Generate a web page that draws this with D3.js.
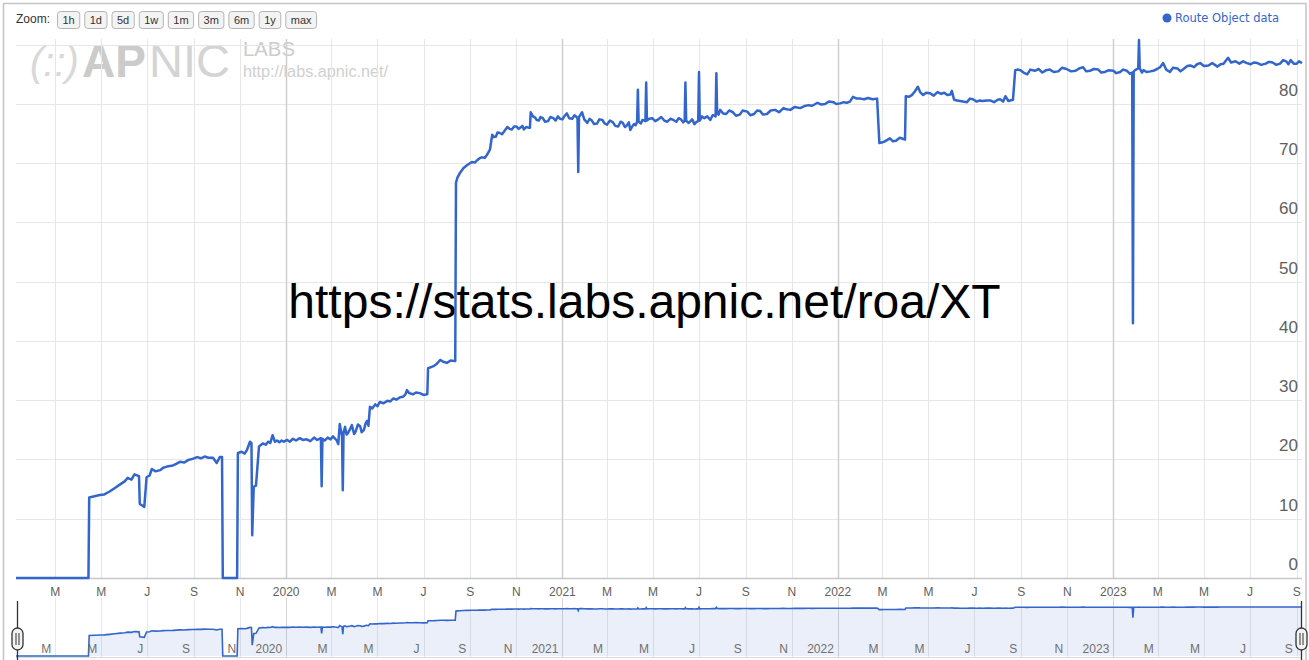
<!DOCTYPE html>
<html><head><meta charset="utf-8">
<script src="https://cdn.jsdelivr.net/npm/d3@7"></script>
<style>
html,body{margin:0;padding:0;background:#fff;}
svg{display:block;font-family:"Liberation Sans",Arial,sans-serif;}
</style></head><body>
<svg id="chart" width="1309" height="660"></svg>
<script>
// ---------------- DATA ----------------
const seriesName = "Route Object data";
const overlayText = "https://stats.labs.apnic.net/roa/XT";
const zoomButtons = ["1h","1d","5d","1w","1m","3m","6m","1y","max"];
const monthInitials = ["J","F","M","A","M","J","J","A","S","O","N","D"];
const yTickValues = [0,10,20,30,40,50,60,70,80];
const yGridValues = [0,10,20,30,40,50,60,70,80,90];
const xDomain = ["2019-01-08","2023-09-08"];

// [date, route-object ROA coverage %]
const data2019 = [
["2019-01-08",0],["2019-04-14",0],["2019-04-15",13.6],["2019-04-22",13.8],["2019-04-29",14.0],["2019-05-05",14.1],
["2019-05-12",14.6],["2019-05-19",15.2],["2019-05-26",15.8],["2019-06-01",16.3],["2019-06-05",16.9],["2019-06-10",16.6],
["2019-06-14",17.5],["2019-06-20",17.2],["2019-06-21",12.5],["2019-06-27",12.0],["2019-06-30",17.0],["2019-07-04",17.3],
["2019-07-07",18.4],["2019-07-12",18.0],["2019-07-18",18.2],["2019-07-22",18.6],["2019-07-27",18.8],["2019-08-04",19.0],
["2019-08-09",19.3],["2019-08-13",19.6],["2019-08-19",19.5],["2019-08-24",19.9],["2019-08-30",20.1],["2019-09-05",20.4],
["2019-09-10",20.2],["2019-09-15",20.5],["2019-09-20",20.3],["2019-09-26",20.3],["2019-10-01",19.4],["2019-10-05",20.4],
["2019-10-08",20.4],["2019-10-09",0],["2019-10-28",0],["2019-10-29",21.1],["2019-11-03",21.3],["2019-11-07",21.0],
["2019-11-10",21.6],["2019-11-14",23.0],["2019-11-16",22.8],["2019-11-17",7.2],["2019-11-19",15.4],["2019-11-22",15.6],
["2019-11-26",22.2],["2019-12-01",22.7],["2019-12-05",22.5],["2019-12-08",23.0],["2019-12-11",22.8],["2019-12-14",24.1],
["2019-12-17",23.0],["2019-12-20",23.2],["2019-12-23",22.9],["2019-12-26",23.2],["2019-12-29",23.0]
];
const data2020 = [
["2020-01-02",23.3],["2020-01-06",23.0],["2020-01-10",23.5],["2020-01-14",23.2],["2020-01-19",23.6],["2020-01-23",23.3],
["2020-01-28",23.4],["2020-02-02",23.1],["2020-02-07",23.7],["2020-02-11",23.3],["2020-02-16",23.6],["2020-02-17",15.5],
["2020-02-18",23.5],["2020-02-21",23.2],["2020-02-25",23.7],["2020-02-29",23.4],["2020-03-03",23.9],["2020-03-08",23.2],
["2020-03-10",22.6],["2020-03-12",26.0],["2020-03-14",24.6],["2020-03-15",24.0],["2020-03-16",14.8],["2020-03-17",24.5],
["2020-03-19",25.5],["2020-03-21",24.2],["2020-03-23",24.5],["2020-03-26",25.2],["2020-03-28",25.8],["2020-03-31",24.3],
["2020-04-02",24.7],["2020-04-05",25.9],["2020-04-08",25.6],["2020-04-10",24.6],["2020-04-13",25.0],["2020-04-15",26.0],
["2020-04-17",26.5],["2020-04-19",25.7],["2020-04-21",28.9],["2020-04-24",28.6],["2020-04-28",29.3],["2020-05-01",29.0],
["2020-05-04",29.7],["2020-05-09",29.5],["2020-05-14",29.9],["2020-05-18",29.8],["2020-05-22",30.3],["2020-05-26",30.1],
["2020-05-31",30.5],["2020-06-04",30.6],["2020-06-07",31.0],["2020-06-09",31.7],["2020-06-12",31.2],["2020-06-17",31.0],
["2020-06-21",31.3],["2020-06-26",31.2],["2020-07-01",30.9],["2020-07-06",31.0],["2020-07-07",35.4],["2020-07-11",35.6],
["2020-07-15",35.8],["2020-07-19",36.2],["2020-07-23",36.8],["2020-07-27",36.5],["2020-08-01",36.3],["2020-08-06",36.7],
["2020-08-12",36.6],["2020-08-13",66.7],["2020-08-15",67.6],["2020-08-18",68.3],["2020-08-23",69.2],["2020-08-28",69.7],
["2020-09-03",70.2],["2020-09-07",70.1],["2020-09-10",70.5],["2020-09-13",70.8],["2020-09-16",71.0],["2020-09-20",70.9],
["2020-09-23",71.4],["2020-09-27",72.3],["2020-09-30",74.8],["2020-10-02",74.4],["2020-10-05",74.5],["2020-10-07",75.2],
["2020-10-10",75.1],["2020-10-13",74.9],["2020-10-16",75.4],["2020-10-20",76.1],["2020-10-23",75.8],["2020-10-26",75.7],
["2020-10-29",76.2],["2020-11-01",76.2],["2020-11-04",75.8],["2020-11-06",76.0],["2020-11-09",76.3],["2020-11-11",75.7],
["2020-11-14",76.1],["2020-11-17",76.0],["2020-11-19",76.0],["2020-11-20",78.6],["2020-11-23",77.9],["2020-11-26",77.7],
["2020-11-28",77.3],["2020-12-01",77.2],["2020-12-03",77.8],["2020-12-06",77.6],["2020-12-09",77.0],["2020-12-13",77.1],
["2020-12-16",77.8],["2020-12-20",77.6],["2020-12-23",77.2],["2020-12-26",77.9],["2020-12-29",77.5]
];
const data2021 = [
["2021-01-01",77.4],["2021-01-04",78.0],["2021-01-07",78.4],["2021-01-10",77.6],["2021-01-14",77.5],["2021-01-17",78.1],
["2021-01-19",77.9],["2021-01-21",77.6],["2021-01-22",68.5],["2021-01-23",77.8],["2021-01-25",78.2],["2021-01-27",78.6],
["2021-01-30",77.4],["2021-02-03",76.8],["2021-02-06",77.5],["2021-02-09",77.2],["2021-02-12",76.6],["2021-02-16",76.7],
["2021-02-19",77.4],["2021-02-23",77.3],["2021-02-26",76.7],["2021-03-01",76.5],["2021-03-05",77.2],["2021-03-09",76.9],
["2021-03-12",76.3],["2021-03-16",76.2],["2021-03-19",77.0],["2021-03-22",76.8],["2021-03-25",76.1],["2021-03-27",76.3],
["2021-03-30",76.9],["2021-04-01",75.6],["2021-04-03",76.1],["2021-04-06",76.6],["2021-04-08",76.4],["2021-04-10",77.0],
["2021-04-11",82.4],["2021-04-12",77.0],["2021-04-15",76.7],["2021-04-17",77.3],["2021-04-21",77.1],["2021-04-22",83.6],
["2021-04-23",77.2],["2021-04-26",77.5],["2021-04-30",77.6],["2021-05-04",77.1],["2021-05-08",77.4],["2021-05-12",77.8],
["2021-05-16",77.2],["2021-05-20",77.0],["2021-05-24",77.5],["2021-05-28",77.3],["2021-06-01",77.0],["2021-06-04",77.6],
["2021-06-07",77.4],["2021-06-10",76.9],["2021-06-12",77.1],["2021-06-13",83.6],["2021-06-14",77.2],["2021-06-17",76.8],
["2021-06-19",77.0],["2021-06-22",77.4],["2021-06-25",76.6],["2021-06-28",77.0],["2021-06-30",77.1],["2021-07-01",85.4],
["2021-07-02",77.2],["2021-07-05",77.9],["2021-07-08",77.6],["2021-07-12",77.9],["2021-07-16",77.3],["2021-07-19",78.1],
["2021-07-22",78.0],["2021-07-23",77.9],["2021-07-24",85.2],["2021-07-25",78.5],["2021-07-27",78.2],["2021-07-29",79.0],
["2021-08-02",78.4],["2021-08-06",78.3],["2021-08-10",78.9],["2021-08-15",78.6],["2021-08-19",78.0],["2021-08-24",78.2],
["2021-08-28",78.9],["2021-09-03",78.7],["2021-09-07",78.1],["2021-09-12",78.3],["2021-09-16",78.9],["2021-09-20",78.8],
["2021-09-24",78.2],["2021-09-29",78.3],["2021-10-04",78.9],["2021-10-10",79.0],["2021-10-15",78.6],["2021-10-21",79.3],
["2021-10-25",79.1],["2021-10-30",79.0],["2021-11-05",79.5],["2021-11-12",79.3],["2021-11-17",79.6],["2021-11-23",79.8],
["2021-11-28",79.7],["2021-12-05",80.2],["2021-12-10",79.9],["2021-12-15",80.0],["2021-12-20",80.4],["2021-12-26",80.3],
["2021-12-30",80.0]
];
const data2022 = [
["2022-01-04",80.1],["2022-01-09",80.3],["2022-01-13",80.2],["2022-01-17",80.4],["2022-01-21",81.2],["2022-01-26",80.9],
["2022-01-31",80.9],["2022-02-05",80.8],["2022-02-10",81.0],["2022-02-16",80.8],["2022-02-22",80.9],["2022-02-25",73.4],
["2022-02-28",73.5],["2022-03-03",73.6],["2022-03-07",73.9],["2022-03-11",74.2],["2022-03-15",73.7],["2022-03-19",73.8],
["2022-03-24",74.3],["2022-03-31",74.0],["2022-04-01",81.3],["2022-04-05",81.2],["2022-04-09",81.5],["2022-04-13",82.1],
["2022-04-17",82.9],["2022-04-20",82.0],["2022-04-24",81.5],["2022-04-28",81.9],["2022-05-03",81.8],["2022-05-08",81.4],
["2022-05-13",82.0],["2022-05-18",81.7],["2022-05-22",81.9],["2022-05-26",81.5],["2022-05-30",81.6],["2022-06-01",82.2],
["2022-06-04",80.7],["2022-06-08",80.6],["2022-06-12",80.5],["2022-06-16",80.4],["2022-06-21",80.3],["2022-06-25",80.9],
["2022-06-29",80.8],["2022-07-04",80.4],["2022-07-08",80.6],["2022-07-12",80.5],["2022-07-17",80.6],["2022-07-22",80.6],
["2022-07-27",80.3],["2022-08-01",80.7],["2022-08-04",80.8],["2022-08-08",80.4],["2022-08-11",81.3],["2022-08-15",80.5],
["2022-08-21",80.7],["2022-08-24",85.7],["2022-08-27",85.8],["2022-08-31",85.7],["2022-09-04",85.3],["2022-09-09",85.0],
["2022-09-13",85.8],["2022-09-19",85.6],["2022-09-24",85.9],["2022-09-29",85.3],["2022-10-04",85.7],["2022-10-09",85.8],
["2022-10-14",85.4],["2022-10-20",85.5],["2022-10-25",86.1],["2022-10-31",85.9],["2022-11-06",85.5],["2022-11-12",85.6],
["2022-11-17",86.0],["2022-11-22",86.2],["2022-11-26",85.5],["2022-12-01",85.6],["2022-12-06",85.9],["2022-12-12",85.8],
["2022-12-16",85.3],["2022-12-21",85.4],["2022-12-26",85.7]
];
const data2023 = [
["2023-01-01",85.6],["2023-01-05",85.2],["2023-01-10",85.4],["2023-01-14",85.8],["2023-01-19",85.6],["2023-01-23",85.1],
["2023-01-26",85.3],["2023-01-27",43.0],["2023-01-28",85.5],["2023-01-31",85.8],["2023-02-03",86.0],["2023-02-04",90.8],
["2023-02-05",86.0],["2023-02-08",85.3],["2023-02-10",85.7],["2023-02-14",85.4],["2023-02-19",85.5],["2023-02-23",85.6],
["2023-02-28",85.9],["2023-03-04",86.2],["2023-03-08",86.9],["2023-03-12",85.8],["2023-03-17",85.4],["2023-03-21",86.1],
["2023-03-27",86.0],["2023-03-31",85.5],["2023-04-04",85.9],["2023-04-09",86.4],["2023-04-13",86.5],["2023-04-18",86.2],
["2023-04-22",86.7],["2023-04-26",86.9],["2023-05-01",86.4],["2023-05-07",86.5],["2023-05-12",86.9],["2023-05-19",86.3],
["2023-05-23",86.7],["2023-05-27",86.8],["2023-06-02",87.8],["2023-06-06",87.0],["2023-06-12",87.2],["2023-06-17",86.8],
["2023-06-22",87.2],["2023-06-27",86.9],["2023-07-02",86.7],["2023-07-06",87.0],["2023-07-11",86.9],["2023-07-16",86.6],
["2023-07-22",86.8],["2023-07-26",87.1],["2023-07-31",87.0],["2023-08-05",86.6],["2023-08-10",86.8],["2023-08-14",87.4],
["2023-08-18",87.2],["2023-08-21",86.7],["2023-08-24",87.4],["2023-08-28",86.8],["2023-09-01",86.8],["2023-09-04",87.2],
["2023-09-08",86.9]
];

// ---------------- CHART ----------------
const parse = d3.utcParse("%Y-%m-%d");
const data = [].concat(data2019, data2020, data2021, data2022, data2023)
  .map(([d,v])=>({date:parse(d), value:v}));
const svg = d3.select("#chart");
const blue = "#3366cc";

const plotL = 16, plotR = 1302, plotT = 39, plotB = 578;
const x = d3.scaleUtc().domain(xDomain.map(parse)).range([plotL, plotR]);
const y = d3.scaleLinear().domain([0,90]).range([plotB, 44.7]);

// outer frame
svg.append("rect").attr("x",3.5).attr("y",3.5).attr("width",1302.5).attr("height",670)
  .attr("fill","none").attr("stroke","#c4c4c4").attr("stroke-width",1.5);

// watermark
svg.append("text").attr("x",30).attr("y",76).attr("font-size",40).attr("font-style","italic")
  .attr("fill","#d8d8d8").text("(::)");
svg.append("text").attr("x",82).attr("y",77).attr("font-size",46).attr("font-weight","bold")
  .attr("fill","#cbcbcb").text("AP");
svg.append("text").attr("x",149).attr("y",77).attr("font-size",46).attr("fill","#d4d4d4")
  .attr("textLength",81).attr("lengthAdjust","spacingAndGlyphs").text("NIC");
svg.append("text").attr("x",243).attr("y",56).attr("font-size",20).attr("fill","#cccccc")
  .attr("textLength",52).attr("lengthAdjust","spacingAndGlyphs").text("LABS");
svg.append("text").attr("x",243).attr("y",77).attr("font-size",16).attr("fill","#d0d0d0")
  .attr("textLength",145).attr("lengthAdjust","spacingAndGlyphs").text("http://labs.apnic.net/");

// gridlines
const xTicks = x.ticks(d3.utcMonth.every(2));
const grid = svg.append("g");
grid.selectAll("line.h").data(yGridValues).join("line")
  .attr("x1",plotL).attr("x2",plotR).attr("y1",d=>Math.round(y(d))+0.5).attr("y2",d=>Math.round(y(d))+0.5)
  .attr("stroke","#e6e6e6").attr("stroke-width",1);
grid.selectAll("line.v").data(xTicks).join("line")
  .attr("x1",d=>Math.round(x(d))+0.5).attr("x2",d=>Math.round(x(d))+0.5).attr("y1",plotT).attr("y2",plotB)
  .attr("stroke",d=>d.getUTCMonth()===0?"#cfcfcf":"#e6e6e6").attr("stroke-width",d=>d.getUTCMonth()===0?1.5:1);
svg.append("line").attr("x1",plotL).attr("x2",plotR).attr("y1",plotB+0.5).attr("y2",plotB+0.5)
  .attr("stroke","#c8c8c8").attr("stroke-width",1.5);

const fmt = d => d.getUTCMonth()===0 ? String(d.getUTCFullYear()) : monthInitials[d.getUTCMonth()];

// x labels
svg.append("g").selectAll("text").data(xTicks).join("text")
  .attr("x",d=>x(d)).attr("y",595.5).attr("text-anchor","middle")
  .attr("font-size",12).attr("fill","#606060").text(fmt);

// y labels
svg.append("g").selectAll("text").data(yTickValues).join("text")
  .attr("x",1298).attr("y",d=>y(d)-8).attr("text-anchor","end")
  .attr("font-size",17).attr("fill","#606060").text(d=>d);

// overlay url text
svg.append("text").attr("x",644.5).attr("y",318).attr("text-anchor","middle")
  .attr("font-size",48).attr("fill","#000").text(overlayText);

// series
svg.append("clipPath").attr("id","plotclip").append("rect")
  .attr("x",plotL).attr("y",plotT-2).attr("width",plotR-plotL+1).attr("height",plotB-plotT+4);
const line = d3.line().x(d=>x(d.date)).y(d=>y(d.value));
svg.append("path").datum(data).attr("clip-path","url(#plotclip)")
  .attr("d",line).attr("fill","none").attr("stroke",blue).attr("stroke-width",2.5)
  .attr("stroke-linejoin","round");

// ---------------- NAVIGATOR ----------------
const navT = 598, navB = 657;
const nx = d3.scaleUtc().domain(xDomain.map(parse)).range([plotL, plotR]);
const ny = d3.scaleLog().domain([3.56, 87]).range([656, 607]).clamp(true);
const nyv = v => ny(Math.max(v, 3.56));
const nTicks = nx.ticks(d3.utcMonth.every(2));
svg.append("g").selectAll("line").data(nTicks).join("line")
  .attr("x1",d=>Math.round(nx(d))+0.5).attr("x2",d=>Math.round(nx(d))+0.5).attr("y1",navT).attr("y2",navB)
  .attr("stroke",d=>d.getUTCMonth()===0?"#d6d6d6":"#e8e8e8");
svg.append("path").datum(data)
  .attr("d",d3.area().x(d=>nx(d.date)).y0(656).y1(d=>nyv(d.value)))
  .attr("fill","rgba(51,102,204,0.1)");
svg.append("path").datum(data)
  .attr("d",d3.line().x(d=>nx(d.date)).y(d=>nyv(d.value)))
  .attr("fill","none").attr("stroke",blue).attr("stroke-width",1.6);
svg.append("line").attr("x1",plotL).attr("x2",plotR).attr("y1",navB+0.5).attr("y2",navB+0.5)
  .attr("stroke","#d8d8d8");
svg.append("g").selectAll("text").data(nTicks).join("text")
  .attr("x",d=>nx(d)-4).attr("y",652.5).attr("text-anchor","end")
  .attr("font-size",12).attr("fill","#707070").text(fmt);

// handles
[17.5, 1301.5].forEach(hx=>{
  const g = svg.append("g");
  g.append("line").attr("x1",hx).attr("x2",hx).attr("y1",601).attr("y2",660)
    .attr("stroke","#333").attr("stroke-width",1.3);
  g.append("rect").attr("x",hx-5.5).attr("y",628).attr("width",11).attr("height",22).attr("rx",5.5)
    .attr("fill","#f2f2f2").attr("stroke","#333").attr("stroke-width",1.3);
  g.append("line").attr("x1",hx-1.5).attr("x2",hx-1.5).attr("y1",633).attr("y2",645).attr("stroke","#333");
  g.append("line").attr("x1",hx+1.5).attr("x2",hx+1.5).attr("y1",633).attr("y2",645).attr("stroke","#333");
});

// ---------------- TOP CONTROLS ----------------
svg.append("text").attr("x",16).attr("y",23).attr("font-size",12).attr("fill","#333").text("Zoom:");
let bx = 57;
zoomButtons.forEach(lbl=>{
  const g = svg.append("g");
  const t = g.append("text").attr("y",24).attr("font-size",11).attr("fill","#333").text(lbl);
  const w = t.node().getComputedTextLength() + 10;
  g.insert("rect","text").attr("x",bx+0.5).attr("y",11.5).attr("width",w).attr("height",17).attr("rx",3)
    .attr("fill","#f3f3f3").attr("stroke","#b4b4b4");
  t.attr("x",bx+0.5+w/2).attr("text-anchor","middle");
  bx += w + 5;
});

// legend
svg.append("circle").attr("cx",1167).attr("cy",18).attr("r",4.5).attr("fill",blue);
svg.append("text").attr("x",1175).attr("y",22).attr("font-family","DejaVu Sans, Verdana, sans-serif")
  .attr("font-size",11.5).attr("fill",blue).text(seriesName);
</script>
</body></html>
